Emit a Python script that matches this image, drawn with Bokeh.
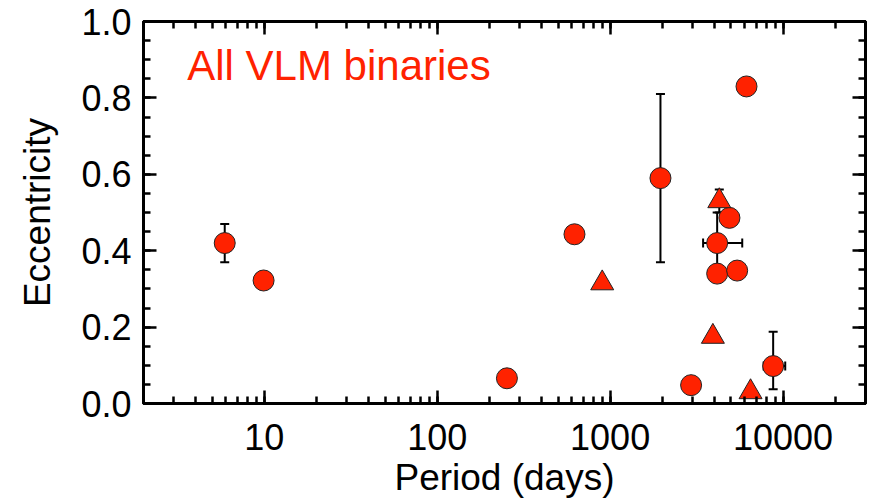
from bokeh.plotting import figure
from bokeh.models import (Range1d, FixedTicker, LogAxis, LinearAxis, Whisker, TeeHead,
                          ColumnDataSource, Label, CustomJSTickFormatter)
from bokeh.embed import file_html
from bokeh.resources import INLINE

# ---- data ----
period_circ = [5.9, 9.9, 253, 622, 1955, 2940, 4160, 4160, 4900, 5430, 6150, 8770]
ecc_circ = [0.42, 0.322, 0.066, 0.443, 0.59, 0.048, 0.42, 0.34, 0.486, 0.348, 0.83, 0.098]

period_tri = [900, 3930, 4280, 6490]
ecc_tri = [0.315, 0.175, 0.53, 0.03]

# vertical error bars (eccentricity)
verr_period = [5.9, 1955, 4160, 8770, 4280]
verr_low = [0.37, 0.37, 0.36, 0.037, 0.50]
verr_high = [0.47, 0.81, 0.50, 0.188, 0.56]

# horizontal error bars (period)
herr_ecc = [0.42, 0.098]
herr_low = [3450, 7730]
herr_high = [5810, 10300]

x_ticks = [10, 100, 1000, 10000]
x_tick_labels = ["10", "100", "1000", "10000"]
y_ticks = [0.0, 0.2, 0.4, 0.6, 0.8, 1.0]
y_tick_labels = ["0.0", "0.2", "0.4", "0.6", "0.8", "1.0"]

RED = "#ff2200"
FONT = "Liberation Sans"

x_minor = [m * 10 ** k for k in range(0, 5) for m in range(1, 10) if 2 <= m * 10 ** k <= 30000]
y_minor = [round(i * 0.05, 2) for i in range(21)]

p = figure(width=881, height=503, x_axis_type="log",
           x_range=Range1d(2, 30000), y_range=Range1d(0, 1.0),
           output_backend="svg", toolbar_location=None,
           min_border_left=143, min_border_right=16, min_border_top=21, min_border_bottom=100)
p.grid.visible = False
p.background_fill_color = "white"
p.border_fill_color = "white"
p.outline_line_color = "black"
p.outline_line_width = 3

xt = FixedTicker(ticks=x_ticks, minor_ticks=x_minor)
yt = FixedTicker(ticks=y_ticks, minor_ticks=y_minor)


def style(ax):
    ax.axis_line_width = 3
    ax.axis_line_color = "black"
    ax.major_tick_in = 13
    ax.major_tick_out = 0
    ax.minor_tick_in = 7
    ax.minor_tick_out = 0
    ax.major_tick_line_width = 2.5
    ax.minor_tick_line_width = 2.5
    ax.major_tick_line_color = "black"
    ax.minor_tick_line_color = "black"
    ax.major_label_text_font = FONT
    ax.major_label_text_font_size = "36px"
    ax.major_label_text_color = "black"
    ax.axis_label_text_font = FONT
    ax.axis_label_text_font_size = "37px"
    ax.axis_label_text_font_style = "normal"
    ax.axis_label_text_color = "black"


xa = p.xaxis[0]
xa.ticker = xt
xa.major_label_overrides = {t: s for t, s in zip(x_ticks, x_tick_labels)}
xa.axis_label = "Period (days)"
style(xa)
xa.major_label_standoff = 20
xa.axis_label_standoff = 4

ya = p.yaxis[0]
ya.ticker = yt
ya.major_label_overrides = {t: s for t, s in zip(y_ticks, y_tick_labels)}
ya.axis_label = "Eccentricity"
style(ya)
ya.major_label_standoff = 12
ya.axis_label_standoff = 20

top = LogAxis(ticker=xt, formatter=CustomJSTickFormatter(code="return '';"))
style(top)
top.major_label_text_font_size = "2px"
top.major_label_standoff = 0
p.add_layout(top, "above")

right = LinearAxis(ticker=yt, formatter=CustomJSTickFormatter(code="return '';"))
style(right)
right.major_label_text_font_size = "2px"
right.major_label_standoff = 0
p.add_layout(right, "right")

# error bars
vsrc = ColumnDataSource(dict(p=verr_period, lo=verr_low, hi=verr_high))
p.add_layout(Whisker(source=vsrc, base="p", lower="lo", upper="hi", dimension="height",
                     line_width=2, line_color="black", level="underlay",
                     upper_head=TeeHead(size=9, line_width=2, line_color="black"),
                     lower_head=TeeHead(size=9, line_width=2, line_color="black")))
hsrc = ColumnDataSource(dict(e=herr_ecc, lo=herr_low, hi=herr_high))
p.add_layout(Whisker(source=hsrc, base="e", lower="lo", upper="hi", dimension="width",
                     line_width=2, line_color="black", level="underlay",
                     upper_head=TeeHead(size=9, line_width=2, line_color="black"),
                     lower_head=TeeHead(size=9, line_width=2, line_color="black")))

p.scatter(period_circ, ecc_circ, marker="circle", size=21,
          fill_color=RED, line_color="#222222", line_width=1)
p.scatter(period_tri, ecc_tri, marker="triangle", size=23,
          fill_color=RED, line_color="#222222", line_width=1)

p.add_layout(Label(x=3.58, y=0.886, text="All VLM binaries", text_color=RED,
                   text_font=FONT, text_font_size="42px", text_baseline="alphabetic"))

open("out.html", "w").write(file_html(p, INLINE))
